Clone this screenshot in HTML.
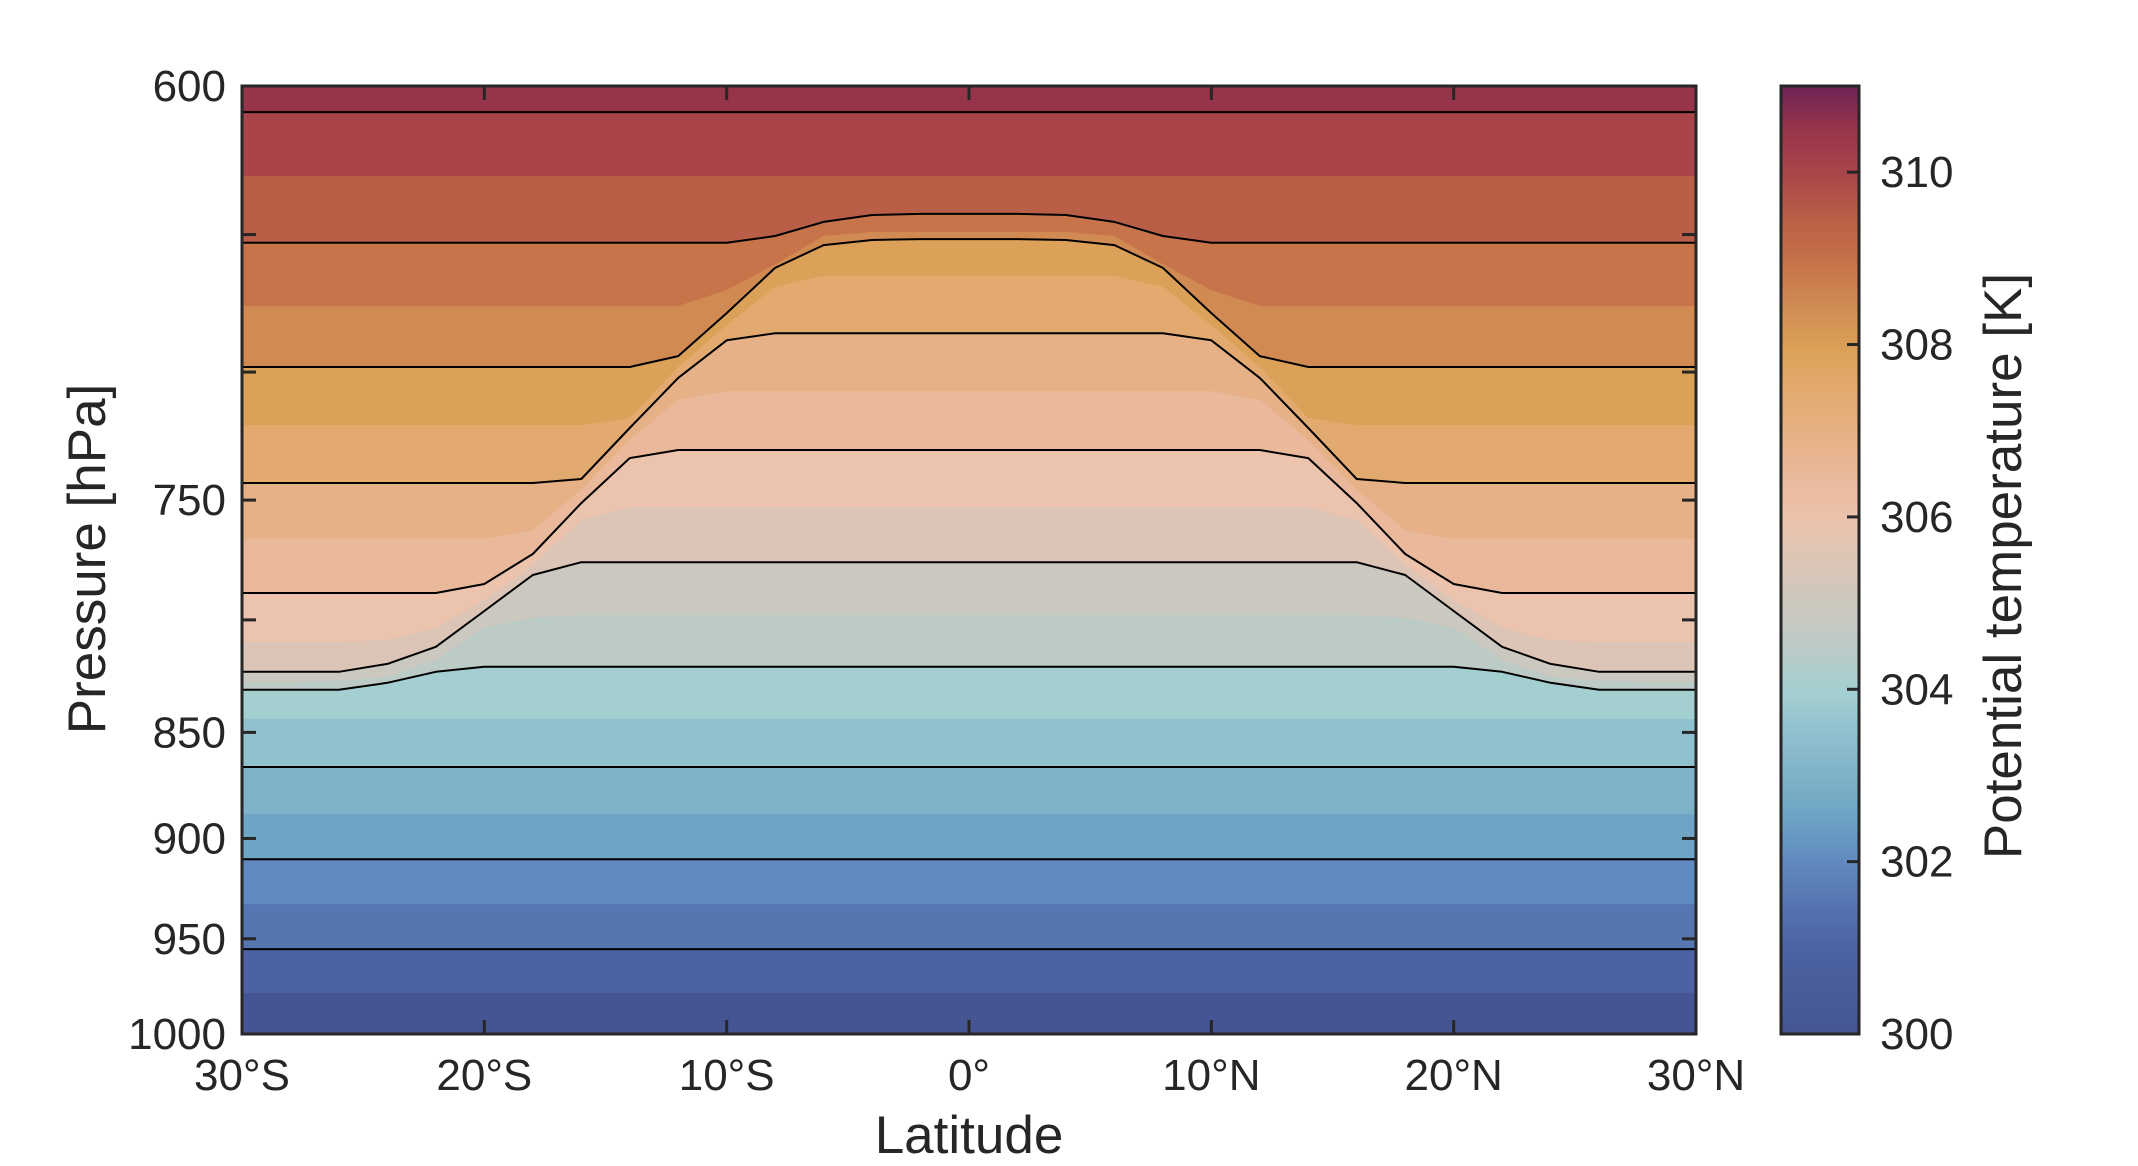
<!DOCTYPE html>
<html><head><meta charset="utf-8"><style>
html,body{margin:0;padding:0;background:#fff}
svg{display:block;font-family:"Liberation Sans",sans-serif}
</style></head><body>
<svg id="chart" width="2138" height="1166" viewBox="0 0 2138 1166" xmlns="http://www.w3.org/2000/svg">
<defs>
<clipPath id="plotclip"><rect x="242" y="86" width="1454" height="948"/></clipPath>
<linearGradient id="cbgrad" x1="0" y1="1" x2="0" y2="0">
<stop offset="0" stop-color="#455593"/>
<stop offset="0.09" stop-color="#4c62a2"/>
<stop offset="0.14" stop-color="#5676b2"/>
<stop offset="0.18" stop-color="#6089bf"/>
<stop offset="0.23" stop-color="#6ea4c4"/>
<stop offset="0.27" stop-color="#7fb2c8"/>
<stop offset="0.32" stop-color="#91c1cf"/>
<stop offset="0.36" stop-color="#a4cfd1"/>
<stop offset="0.41" stop-color="#bccbc6"/>
<stop offset="0.45" stop-color="#cbc8bf"/>
<stop offset="0.50" stop-color="#dcc5b6"/>
<stop offset="0.54" stop-color="#ecc3ad"/>
<stop offset="0.59" stop-color="#eab99b"/>
<stop offset="0.63" stop-color="#e6b186"/>
<stop offset="0.68" stop-color="#e2aa6e"/>
<stop offset="0.72" stop-color="#dca158"/>
<stop offset="0.77" stop-color="#d08a52"/>
<stop offset="0.81" stop-color="#c7744a"/>
<stop offset="0.86" stop-color="#b95f47"/>
<stop offset="0.91" stop-color="#a8444a"/>
<stop offset="0.955" stop-color="#96344a"/>
<stop offset="1" stop-color="#6e2358"/>
</linearGradient>
</defs>
<g id="bands" clip-path="url(#plotclip)"></g>
<g id="contours" clip-path="url(#plotclip)"></g>
<g id="axes"></g>
</svg>
<script>
// ---- data ----
const lats = [0,2,4,6,8,10,12,14,16,18,20,22,24,26,28,30];
const levels = [310,309.5,309,308.5,308,307.5,307,306.5,306,305.5,305,304.5,304,303.5,303,302.5,302,301.5,301,300.5];
const p310   = [608.5,608.5,608.5,608.5,608.5,608.5,608.5,608.5,608.5,608.5,608.5,608.5,608.5,608.5,608.5,608.5];
const p309_5 = [629.8,629.8,629.8,629.8,629.8,629.8,629.8,629.8,629.8,629.8,629.8,629.8,629.8,629.8,629.8,629.8];
const p309   = [642.8,642.8,643.2,645.6,650.5,652.9,652.9,652.9,652.9,652.9,652.9,652.9,652.9,652.9,652.9,652.9];
const p308_5 = [649.1,649.1,649.1,650.5,660.5,669.7,675.5,675.5,675.5,675.5,675.5,675.5,675.5,675.5,675.5,675.5];
const p308   = [651.6,651.6,651.9,653.7,661.8,678.1,694.0,698.1,698.1,698.1,698.1,698.1,698.1,698.1,698.1,698.1];
const p307_5 = [664.6,664.6,664.6,664.6,668.6,682.5,698.1,717.6,720.3,720.3,720.3,720.3,720.3,720.3,720.3,720.3];
const p307   = [685.5,685.5,685.5,685.5,685.5,688.1,702.2,721.4,741.5,743.1,743.1,743.1,743.1,743.1,743.1,743.1];
const p306_5 = [707.2,707.2,707.2,707.2,707.2,707.2,710.6,726.1,745.9,762.2,765.9,765.9,765.9,765.9,765.9,765.9];
const p306   = [730.0,730.0,730.0,730.0,730.0,730.0,730.0,733.2,751.2,772.1,784.7,788.5,788.5,788.5,788.5,788.5];
const p305_5 = [752.7,752.7,752.7,752.7,752.7,752.7,752.7,752.7,758.0,776.7,791.4,803.4,808.7,809.5,809.5,809.5];
const p305   = [775.5,775.5,775.5,775.5,775.5,775.5,775.5,775.5,775.5,780.9,796.2,811.7,819.2,822.7,822.7,822.7];
const p304_5 = [797.9,797.9,797.9,797.9,797.9,797.9,797.9,797.9,797.9,799.1,803.4,817.4,824.9,826.7,827.1,827.1];
const p304   = [820.5,820.5,820.5,820.5,820.5,820.5,820.5,820.5,820.5,820.5,820.5,822.7,827.6,830.7,830.7,830.7];
const p303_5 = [843.9,843.9,843.9,843.9,843.9,843.9,843.9,843.9,843.9,843.9,843.9,843.9,843.9,843.9,843.9,843.9];
const p303   = [866.0,866.0,866.0,866.0,866.0,866.0,866.0,866.0,866.0,866.0,866.0,866.0,866.0,866.0,866.0,866.0];
const p302_5 = [888.2,888.2,888.2,888.2,888.2,888.2,888.2,888.2,888.2,888.2,888.2,888.2,888.2,888.2,888.2,888.2];
const p302   = [910.1,910.1,910.1,910.1,910.1,910.1,910.1,910.1,910.1,910.1,910.1,910.1,910.1,910.1,910.1,910.1];
const p301_5 = [932.4,932.4,932.4,932.4,932.4,932.4,932.4,932.4,932.4,932.4,932.4,932.4,932.4,932.4,932.4,932.4];
const p301   = [955.3,955.3,955.3,955.3,955.3,955.3,955.3,955.3,955.3,955.3,955.3,955.3,955.3,955.3,955.3,955.3];
const p300_5 = [978.2,978.2,978.2,978.2,978.2,978.2,978.2,978.2,978.2,978.2,978.2,978.2,978.2,978.2,978.2,978.2];
const levelPressures = [p310,p309_5,p309,p308_5,p308,p307_5,p307,p306_5,p306,p305_5,p305,p304_5,p304,p303_5,p303,p302_5,p302,p301_5,p301,p300_5];
const xTicks = [-30,-20,-10,0,10,20,30];
const xTickLabels = ["30°S","20°S","10°S","0°","10°N","20°N","30°N"];
const yTicks = [600,650,700,750,800,850,900,950,1000];
const yTickLabels = ["600","","","750","","850","900","950","1000"];
const cbTicks = [300,302,304,306,308,310];
const cbTickLabels = ["300","302","304","306","308","310"];
// ---- styles ----
const topColor = "#96344a";
const bandBelow = ["#a8444a","#b95f47","#c7744a","#d08a52","#dca158","#e2aa6e","#e6b186","#eab99b","#ecc3ad","#dcc5b6","#cbc8bf","#bccbc6","#a4cfd1","#91c1cf","#7fb2c8","#6ea4c4","#6089bf","#5676b2","#4c62a2","#455593"];
const X0=242,X1=1696,Y0=86,Y1=1034;
const CBX0=1781,CBX1=1859,CBMIN=300,CBMAX=311;
function xs(lat){return X0+(lat+30)/60*(X1-X0);}
function ys(p){return Y0+(Y1-Y0)*Math.log(p/600)/Math.log(1000/600);}
function cbs(v){return Y1-(v-CBMIN)/(CBMAX-CBMIN)*(Y1-Y0);}
const NS="http://www.w3.org/2000/svg";
function mk(tag,attrs,parent){const e=document.createElementNS(NS,tag);for(const k in attrs)e.setAttribute(k,attrs[k]);parent.appendChild(e);return e;}
function fullCurve(arr){
  const pts=[];
  for(let i=lats.length-1;i>=0;i--)pts.push([xs(-lats[i]),ys(arr[i])]);
  for(let i=1;i<lats.length;i++)pts.push([xs(lats[i]),ys(arr[i])]);
  return pts;
}
const bands=document.getElementById('bands');
const bg=mk('rect',{x:X0,y:Y0,width:X1-X0,height:Y1-Y0,fill:topColor},bands);


levels.forEach((lv,k)=>{
  const pts=fullCurve(levelPressures[k]);
  let d='M'+pts.map(p=>p[0].toFixed(1)+','+p[1].toFixed(1)).join(' L');
  d+=` L${X1+2},${pts[pts.length-1][1].toFixed(1)} L${X1+2},${Y1+2} L${X0-2},${Y1+2} L${X0-2},${pts[0][1].toFixed(1)} Z`;
  const e=mk('path',{d:d,fill:bandBelow[k]},bands);
  
  
});
const cont=document.getElementById('contours');
levels.forEach((lv,k)=>{
  if(lv%1!==0)return;
  const pts=fullCurve(levelPressures[k]);
  const e=mk('polyline',{points:pts.map(p=>p[0].toFixed(1)+','+p[1].toFixed(1)).join(' '),fill:'none',stroke:'#000','stroke-width':2,'stroke-linejoin':'round'},cont);
  
  
});
const ax=document.getElementById('axes');
const tc='#262626';
xTicks.forEach((t,i)=>{
  const x=xs(t);
  const a=mk('line',{x1:x,y1:Y1,x2:x,y2:Y1-14,stroke:tc,'stroke-width':3},ax);
  
  
  const b=mk('line',{x1:x,y1:Y0,x2:x,y2:Y0+14,stroke:tc,'stroke-width':3},ax);
  
  
  const l=mk('text',{x:x,y:1090,'text-anchor':'middle','font-size':44,fill:tc},ax);
  l.textContent=xTickLabels[i];
  
  
});
yTicks.forEach((t,i)=>{
  const y=ys(t);
  const a=mk('line',{x1:X0,y1:y,x2:X0+14,y2:y,stroke:tc,'stroke-width':3},ax);
  
  
  const b=mk('line',{x1:X1,y1:y,x2:X1-14,y2:y,stroke:tc,'stroke-width':3},ax);
  
  
  if(yTickLabels[i]){
    const l=mk('text',{x:226,y:y+15,'text-anchor':'end','font-size':44,fill:tc},ax);
    l.textContent=yTickLabels[i];
    
    
  }
});
const frame=mk('rect',{x:X0,y:Y0,width:X1-X0,height:Y1-Y0,fill:'none',stroke:tc,'stroke-width':3},ax);


const xt=mk('text',{x:969,y:1153,'text-anchor':'middle','font-size':53,fill:tc},ax);
xt.textContent='Latitude';


const yt=mk('text',{x:0,y:0,'text-anchor':'middle','font-size':53,fill:tc,transform:'translate(105,559) rotate(-90)'},ax);
yt.textContent='Pressure [hPa]';


const cb=mk('rect',{x:CBX0,y:Y0,width:CBX1-CBX0,height:Y1-Y0,fill:'url(#cbgrad)',stroke:tc,'stroke-width':3},ax);


cbTicks.forEach((t,i)=>{
  const y=cbs(t);
  const a=mk('line',{x1:CBX1,y1:y,x2:CBX1-12,y2:y,stroke:tc,'stroke-width':3},ax);
  
  
  const l=mk('text',{x:1880,y:y+15,'text-anchor':'start','font-size':44,fill:tc},ax);
  l.textContent=cbTickLabels[i];
  
  
});
const ct=mk('text',{x:0,y:0,'text-anchor':'middle','font-size':53,fill:tc,transform:'translate(2021,566) rotate(-90)'},ax);
ct.textContent='Potential temperature [K]';


</script>
</body></html>
